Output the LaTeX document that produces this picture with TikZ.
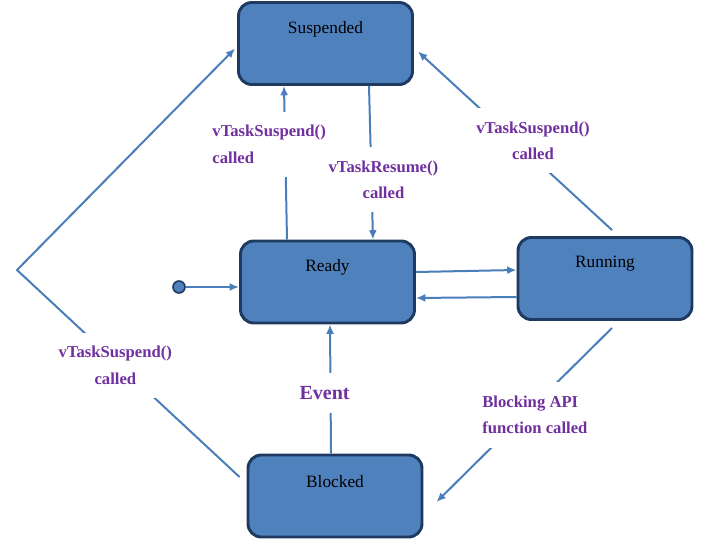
\documentclass[tikz,border=0pt]{standalone}
\usepackage{fontspec}
\setmainfont{Liberation Serif}
\usetikzlibrary{arrows.meta}
\definecolor{boxblue}{HTML}{4F81BD}
\definecolor{boxline}{HTML}{1F3A60}
\definecolor{lineblue}{HTML}{4A7EBB}
\definecolor{lblpurple}{HTML}{7030A0}

\tikzstyle{state} = [rectangle, rounded corners=10pt, minimum width=130.5pt, minimum height=61.5pt, draw=boxline, line width=2.2pt, fill=boxblue]
\tikzstyle{stname} = [anchor=center, yshift=-21pt, text=black, font=\fontsize{13}{15}\selectfont]
\tikzstyle{initdot} = [circle, minimum size=9pt, inner sep=0pt, draw=boxline, line width=1.2pt, fill=boxblue]
\tikzstyle{arrow} = [line width=1.5pt, draw=lineblue, ->, >={Latex[length=7pt,width=6pt]}]
\tikzstyle{lbl} = [fill=white, inner xsep=2pt, inner ysep=10pt, text=lblpurple, font=\bfseries\fontsize{12.5}{20}\selectfont]

\begin{document}
\begin{tikzpicture}[x=0.75pt, y=-0.75pt]
\useasboundingbox (0,0) rectangle (717,545);

% States
\node (sus) [state, label={[stname, name=susT]north:Suspended}] at (325.5,43.5) {};
\node (rdy) [state, label={[stname, name=rdyT]north:Ready}] at (327.5,282) {};
\node (run) [state, label={[stname, name=runT]north:Running}] at (605,278.5) {};
\node (blk) [state, label={[stname, name=blkT]north:Blocked}] at (335,496) {};
\node (init) [initdot] at (179,287) {};
\coordinate (apx) at (17,270);

\draw [arrow] (init) -- (init -| rdy.west);
\draw [arrow] ([shift={(0,-10)}]rdy.east) -- ([shift={(0,-8.5)}]run.west);
\draw [arrow] ([shift={(0,18.5)}]run.west) -- ([shift={(0,16)}]rdy.east);
\draw [arrow] ([shift={(-40.5,0)}]rdy.north) -- ([shift={(-41.5,0)}]sus.south)
      node[lbl, pos=0.62, xshift=-12pt, align=left]{vTaskSuspend()\\called};
\draw [arrow] ([shift={(43.5,0)}]sus.south) -- ([shift={(45.5,0)}]rdy.north)
      node[lbl, pos=0.61, xshift=9pt, align=center]{vTaskResume()\\called};
\draw [arrow] ([shift={(7,-6)}]run.north) -- ([shift={(4,8)}]sus.east)
      node[lbl, pos=0.5, xshift=13.5pt, align=center]{vTaskSuspend()\\called};
\draw [arrow] ([shift={(7,7)}]run.south) -- ([shift={(13,6)}]blk.east)
      node[lbl, pos=0.5, xshift=8pt, align=left]{Blocking API\\function called};
\draw [arrow] ([shift={(-4,0)}]blk.north) -- ([shift={(2.5,0)}]rdy.south)
      node[lbl, pos=0.47, xshift=-4.5pt, font=\bfseries\fontsize{15}{18}\selectfont]{Event};
\draw [arrow] ([shift={(-7,-19)}]blk.west) -- (apx)
      node[lbl, pos=0.54, xshift=-3pt, align=center]{vTaskSuspend()\\called}
      -- ([shift={(-2,5)}]sus.west);
\end{tikzpicture}
\end{document}
